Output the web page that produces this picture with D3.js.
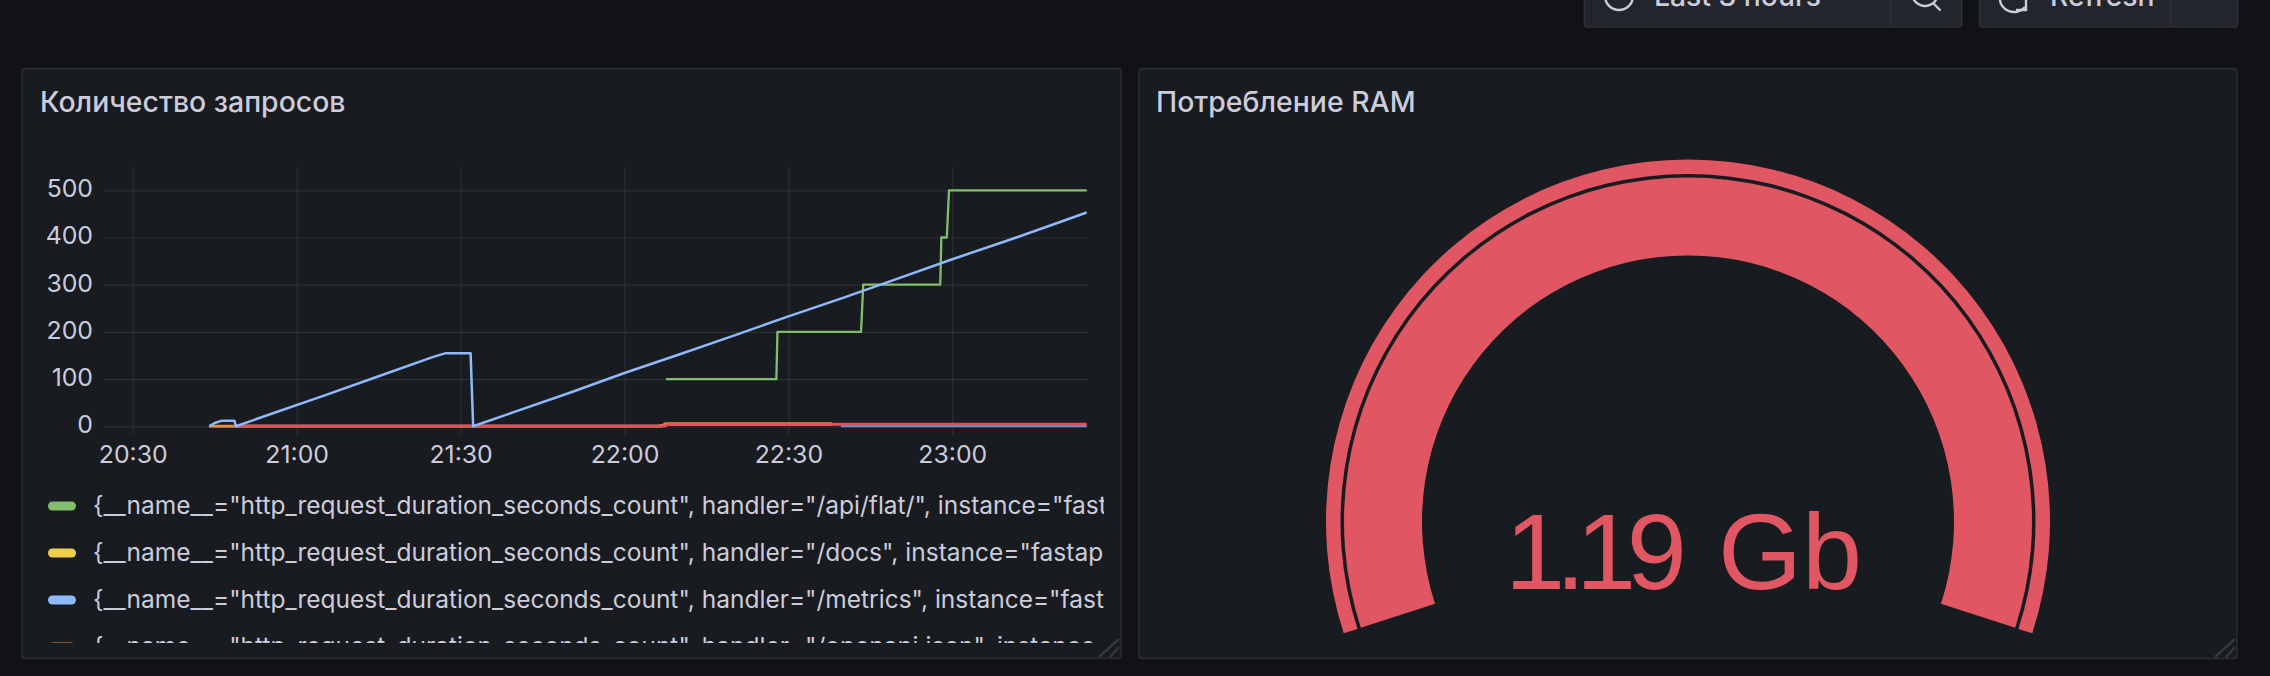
<!DOCTYPE html>
<html><head><meta charset="utf-8">
<script src="https://cdn.jsdelivr.net/npm/d3@7"></script>
<style>
html,body{margin:0;padding:0;background:#111217;overflow:hidden}
svg{display:block}
text{font-family:Inter,"Noto Sans",sans-serif}
</style></head><body>
<svg id="c" width="2270" height="676"></svg>
<script>
const panelTitles = ["Количество запросов", "Потребление RAM"];
const yTicks = [0, 100, 200, 300, 400, 500];
const xTicks = ["20:30:00", "21:00:00", "21:30:00", "22:00:00", "22:30:00", "23:00:00"];

const flatTimes = ["22:07:36","22:27:48","22:28:00","22:43:18","22:43:42","22:57:48","22:58:00","22:59:00","22:59:24","23:24:36"];
const flatValues = [100,100,200,200,300,300,400,400,500,500];

const docsTimes = ["20:44:00","22:07:00"];
const docsValues = [0,0];

const metricsTimes = ["20:44:00","20:45:00","20:46:18","20:48:36","20:48:54","20:55:00","21:05:00","21:15:00","21:25:00","21:27:18","21:31:50","21:32:18","21:40:00","21:50:00","22:00:00","22:10:00","22:20:00","22:30:00","22:40:00","22:50:00","23:00:00","23:10:00","23:20:00","23:24:36"];
const metricsValues = [0,7,12,12,0,25,65,106,147,155,155,0,31,71,113,152,192,233,272,313,354,393,434,453];

const openapiTimes = ["20:44:00","20:48:30","22:06:00","22:07:00","22:07:36","22:38:00"];
const openapiValues = [1,1,1,3,6,6];

const redTimes = ["20:48:30","22:07:36","22:07:40","22:38:00","22:38:10","23:24:36"];
const redValues = [1,1,3.5,3.5,4.3,4.3];

const blueTimes = ["22:39:36","23:24:36"];
const blueValues = [1,1];

const seriesColors = ["#82BD6E","#EFCF4A","#8FB9FA","#EF8B38","#E0505F","#5F93EA"];
const legendHandlers = ["/api/flat/","/docs","/metrics","/openapi.json"];
const gaugeValue = 1.19, gaugeMin = 0, gaugeMax = 1;
const gaugeLabel = "1.19 Gb";

const svg = d3.select("#c");
const parse = d3.timeParse("%H:%M:%S");
const fmt = d3.timeFormat("%H:%M");
const TXT = "#CCCCDC";

// toolbar
function btn(x,y,w,h){svg.append("rect").attr("x",x+.5).attr("y",y).attr("width",w).attr("height",h).attr("rx",3).attr("fill","#22252B").attr("stroke","#2F3137").attr("stroke-width",1.6);}
btn(1584,-10,377,37); btn(1979,-10,192,37); btn(2170,-10,67,37);
svg.append("line").attr("x1",1891).attr("x2",1891).attr("y1",0).attr("y2",26).attr("stroke","#2F3137").attr("stroke-width",1.6);
const ic = {fill:"none",stroke:TXT,"stroke-width":2.4};
function styled(s){Object.entries(ic).forEach(([k,v])=>s.attr(k,v));return s;}
styled(svg.append("circle").attr("cx",1619).attr("cy",-4).attr("r",14));
styled(svg.append("circle").attr("cx",1925).attr("cy",-7).attr("r",13));
styled(svg.append("line").attr("x1",1933).attr("y1",3).attr("x2",1940.5).attr("y2",10.5));
styled(svg.append("path").attr("d","M2000,-2 A14,13 0 0 0 2025,7"));
styled(svg.append("path").attr("d","M2016,10 L2026,10 L2026,0"));
[["Last 3 hours",1654],["Refresh",2050]].forEach(([t,x])=>
  svg.append("text").attr("x",x).attr("y",6).attr("fill",TXT).attr("font-size",28.3).attr("font-weight",500).text(t));

// panels
const panels=[[22,1121],[1139,2237]];
panels.forEach(([a,b],i)=>{
  svg.append("rect").attr("x",a).attr("y",68.5).attr("width",b-a).attr("height",590).attr("rx",3)
    .attr("fill","#181B1F").attr("stroke","#2A2C31").attr("stroke-width",1.6);
  svg.append("text").attr("x",a+18-i).attr("y",112).attr("fill",TXT).attr("font-size",28.4).attr("font-weight",540).text(panelTitles[i]);
  [[b-22,657,b-2,639],[b-11,657,b-2,647]].forEach(l=>
    svg.append("line").attr("x1",l[0]).attr("y1",l[1]).attr("x2",l[2]).attr("y2",l[3]).attr("stroke","#35383E").attr("stroke-width",2.4));
});

// time series
const x = d3.scaleTime().domain([parse("20:24:44"),parse("23:24:56")]).range([104,1088.5]);
const y = d3.scaleLinear().domain([0,500]).range([426.3,190.3]);
const top_=166.7, bottom_=434.7;
const xDates = xTicks.map(parse);

const gridY = svg.append("g").attr("transform","translate(104,0)")
  .call(d3.axisRight(y).tickValues(yTicks).tickSize(984.5).tickFormat(""));
const gridX = svg.append("g").attr("transform",`translate(0,${bottom_})`)
  .call(d3.axisTop(x).tickValues(xDates).tickSize(bottom_-top_).tickFormat(""));
[gridY,gridX].forEach(g=>{g.select(".domain").remove();g.selectAll("line").attr("stroke","#2C2F34").attr("stroke-width",1.2);});

const axY = svg.append("g").attr("transform","translate(93,0)")
  .call(d3.axisLeft(y).tickValues(yTicks).tickSize(0).tickPadding(0));
const axX = svg.append("g").attr("transform","translate(0,437)")
  .call(d3.axisBottom(x).tickValues(xDates).tickSize(0).tickPadding(0).tickFormat(fmt));
[axY,axX].forEach(g=>{g.select(".domain").remove();g.selectAll("text").attr("fill",TXT).attr("font-size",24.8).style("font-family","Inter");});
axY.selectAll("text").attr("dy","0.32em").attr("y",-1.5);
axX.selectAll("text").attr("dy",0).attr("y",26);

const line = d3.line().x(d=>x(d[0])).y(d=>y(d[1]));
const series=[[docsTimes,docsValues,1],[openapiTimes,openapiValues,3],[blueTimes,blueValues,5],[redTimes,redValues,4],[flatTimes,flatValues,0],[metricsTimes,metricsValues,2]];
const widths={0:2.3,1:2.2,2:2.5,3:2.4,4:2.8,5:2.8};
series.forEach(([t,v,c])=>svg.append("path").datum(t.map((d,i)=>[parse(d),v[i]])).attr("d",line)
  .attr("fill","none").attr("stroke",seriesColors[c]).attr("stroke-width",widths[c]).attr("stroke-linejoin","round"));

// legend
const defs = svg.append("defs");
defs.append("clipPath").attr("id","lg").append("rect").attr("x",40).attr("y",480).attr("width",1064).attr("height",163);
const lg = svg.append("g").attr("clip-path","url(#lg)");
const rowY = d3.scalePoint().domain(legendHandlers).range([506,647]);
legendHandlers.forEach((h,i)=>{
  lg.append("rect").attr("x",48).attr("y",rowY(h)-4.5).attr("width",28).attr("height",9).attr("rx",4.5).attr("fill",seriesColors[i]);
  lg.append("text").attr("x",93).attr("y",rowY(h)+8).attr("fill",TXT).attr("font-size",24.5)
    .text(`{__name__="http_request_duration_seconds_count", handler="${h}", instance="fastapi:8000", job="fastapi"}`);
});

// gauge
const gaugeColor="#E05663";
const ang = d3.scaleLinear().domain([gaugeMin,gaugeMax]).range([-0.6*Math.PI,0.6*Math.PI]).clamp(true);
const g = svg.append("g").attr("transform","translate(1688,521.5)");
g.append("path").attr("fill",gaugeColor).attr("d",d3.arc()({innerRadius:347.5,outerRadius:362,startAngle:ang(gaugeMin),endAngle:ang(gaugeMax)}));
g.append("path").attr("fill",gaugeColor).attr("d",d3.arc()({innerRadius:266,outerRadius:344,startAngle:ang(gaugeMin),endAngle:ang(gaugeValue)}));
const gt = g.append("text").attr("y",67.5).attr("fill",gaugeColor).attr("font-size",108).style("font-family","'Liberation Sans'");
const [gNum,gUnit] = gaugeLabel.split(" ");
gt.append("tspan").attr("x",-183).attr("letter-spacing",-9.5).text(gNum+" ");
gt.append("tspan").attr("x",30).text(gUnit);
</script>
</body></html>
